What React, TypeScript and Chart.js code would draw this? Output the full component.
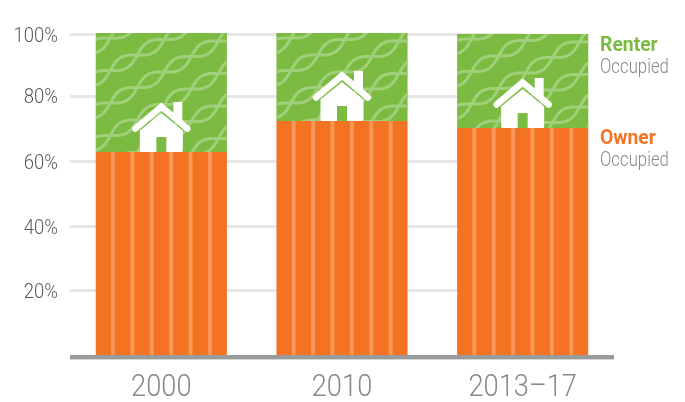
import React, { useEffect, useRef } from "react";
import { Chart, registerables } from "chart.js";

Chart.register(...registerables);

const categories = ["2000", "2010", "2013–17"];
const ownerOccupied = [63.4, 73.1, 70.9];
const renterOccupied = [37.2, 27.5, 29.4];
const tickValues = [20, 40, 60.3, 80.8, 100];
const tickLabels = ["20%", "40%", "60%", "80%", "100%"];

const GREEN = "#7cbb42";
const ORANGE = "#f47323";
const FONT = 'Roboto, "Liberation Sans", sans-serif';
const NARROW = 0.88;

function drawNarrow(ctx: CanvasRenderingContext2D, text: string, x: number, y: number, sx = NARROW) {
  ctx.save();
  ctx.translate(x, y);
  ctx.scale(sx, 1);
  ctx.fillText(text, 0, 0);
  ctx.restore();
}

function drawStripes(ctx: CanvasRenderingContext2D, left: number, top: number, right: number, bottom: number) {
  ctx.fillStyle = "#f8995a";
  const period = 19.4;
  for (let i = 0; i < 6; i++) ctx.fillRect(left + 15.3 + i * period, top, 3.8, bottom - top);
}

function drawTwists(ctx: CanvasRenderingContext2D, left: number, top: number, right: number, bottom: number) {
  const dx = 27;
  const dy = -15.5;
  const len = Math.hypot(dx, dy);
  const ux = dx / len;
  const uy = dy / len;
  const rowGap = 32.5;
  ctx.strokeStyle = "#a1cf7a";
  ctx.lineWidth = 3;
  for (let row = -2; row < 9; row++) {
    const ox = left + 14.5;
    const oy = top + row * rowGap + 5;
    for (const sign of [1, -1]) {
      ctx.beginPath();
      for (let t = -60; t <= 300; t += 2) {
        const wave = sign * 6 * Math.sin((Math.PI * t) / len);
        const x = ox + ux * t - uy * wave;
        const y = oy + uy * t + ux * wave;
        if (t === -60) ctx.moveTo(x, y);
        else ctx.lineTo(x, y);
      }
      ctx.stroke();
    }
  }
}

function drawHouse(ctx: CanvasRenderingContext2D, cx: number, by: number) {
  ctx.save();
  ctx.translate(cx, by);
  ctx.fillStyle = "#ffffff";
  ctx.strokeStyle = "#ffffff";
  ctx.beginPath();
  ctx.moveTo(12, -50);
  ctx.lineTo(21, -50);
  ctx.lineTo(21, -30);
  ctx.lineTo(12, -37);
  ctx.closePath();
  ctx.fill();
  ctx.lineWidth = 6.4;
  ctx.lineCap = "round";
  ctx.lineJoin = "miter";
  ctx.beginPath();
  ctx.moveTo(-26, -23.5);
  ctx.lineTo(0, -45.5);
  ctx.lineTo(26, -23.5);
  ctx.stroke();
  ctx.beginPath();
  ctx.moveTo(-21.5, -1.5);
  ctx.lineTo(-21.5, -21.5);
  ctx.lineTo(0, -39);
  ctx.lineTo(21.5, -21.5);
  ctx.lineTo(21.5, -1.5);
  ctx.quadraticCurveTo(21.5, 0, 20, 0);
  ctx.lineTo(-20, 0);
  ctx.quadraticCurveTo(-21.5, 0, -21.5, -1.5);
  ctx.closePath();
  ctx.fill();
  ctx.fillStyle = GREEN;
  ctx.fillRect(-5, -15, 10, 15);
  ctx.restore();
}

function narrowLabels(scale: any, dy: number) {
  scale.drawLabels = function (area: any) {
    const ctx: CanvasRenderingContext2D = scale.ctx;
    for (const item of scale.getLabelItems(area)) {
      const o = item.options;
      ctx.save();
      ctx.font = item.font.string;
      ctx.fillStyle = o.color;
      ctx.textAlign = o.textAlign;
      ctx.textBaseline = o.textBaseline;
      drawNarrow(ctx, String(item.label), o.translation[0], o.translation[1] + item.textOffset + dy);
      ctx.restore();
    }
  };
}

const decorations = {
  id: "decorations",
  beforeDraw(chart: any) {
    narrowLabels(chart.scales.x, 0);
    narrowLabels(chart.scales.y, 1.5);
  },
  beforeDatasetsDraw(chart: any) {
    const ctx = chart.ctx;
    const last = chart.getDatasetMeta(0).data[categories.length - 1];
    ctx.clearRect(last.x, 0, chart.width - last.x, chart.scales.x.top);
  },
  afterDatasetsDraw(chart: any) {
    const ctx: CanvasRenderingContext2D = chart.ctx;
    const { left, right, bottom } = chart.chartArea;
    const owner = chart.getDatasetMeta(0).data;
    const renter = chart.getDatasetMeta(1).data;
    owner.forEach((bar: any, i: number) => {
      const half = bar.width / 2;
      ctx.save();
      ctx.beginPath();
      ctx.rect(bar.x - half, bar.y, bar.width, bar.base - bar.y);
      ctx.clip();
      drawStripes(ctx, bar.x - half, bar.y, bar.x + half, bar.base);
      ctx.restore();
      const r = renter[i];
      ctx.save();
      ctx.beginPath();
      ctx.rect(r.x - half, r.y, r.width, r.base - r.y);
      ctx.clip();
      drawTwists(ctx, r.x - half, r.y, r.x + half, r.base);
      ctx.restore();
      drawHouse(ctx, bar.x, bar.y);
    });
    ctx.fillStyle = "#999a9c";
    ctx.fillRect(left - 1, bottom, right - left + 2, 4.4);

    ctx.textAlign = "left";
    ctx.textBaseline = "alphabetic";
    ctx.font = `bold 21px ${FONT}`;
    ctx.fillStyle = GREEN;
    drawNarrow(ctx, "Renter", 600, 51, 0.92);
    ctx.fillStyle = ORANGE;
    drawNarrow(ctx, "Owner", 600, 144, 0.92);
    ctx.font = `300 19.5px ${FONT}`;
    ctx.fillStyle = "#88898c";
    drawNarrow(ctx, "Occupied", 600, 72.5, 0.86);
    drawNarrow(ctx, "Occupied", 600, 165.5, 0.86);
  },
};

export default function App() {
  const ref = useRef<HTMLCanvasElement>(null);
  useEffect(() => {
    const chart = new Chart(ref.current!, {
      type: "bar",
      data: {
        labels: categories,
        datasets: [
          { label: "Owner Occupied", data: ownerOccupied, backgroundColor: ORANGE },
          { label: "Renter Occupied", data: renterOccupied, backgroundColor: GREEN },
        ],
      },
      options: {
        animation: false,
        responsive: false,
        devicePixelRatio: 1,
        layout: { padding: { top: 33, right: 72, left: 0, bottom: 0 } },
        plugins: { legend: { display: false }, tooltip: { enabled: false } },
        datasets: { bar: { categoryPercentage: 1, barPercentage: 0.7258 } },
        scales: {
          x: {
            stacked: true,
            grid: { display: false },
            border: { display: false },
            ticks: {
              color: "#88898c",
              font: { family: FONT, size: 31, weight: "300" },
              padding: 7,
              maxRotation: 0,
            },
            afterFit(scale: any) {
              scale.height = 47;
            },
          },
          y: {
            stacked: true,
            min: 0,
            max: 100.6,
            grid: { color: "#e6e6e7", lineWidth: 3, tickLength: 1 },
            border: { display: false },
            afterBuildTicks(scale: any) {
              scale.ticks = tickValues.map((value) => ({ value }));
            },
            ticks: {
              color: "#58595b",
              font: { family: FONT, size: 21, weight: "300" },
              padding: 12,
              callback: (_v: any, i: number) => tickLabels[i],
            },
            afterFit(scale: any) {
              scale.width = 71;
            },
          },
        },
      },
      plugins: [decorations],
    } as any);
    return () => chart.destroy();
  }, []);
  return (
    <div style={{ position: "absolute", left: 0, top: 0, width: 685, height: 402 }}>
      <canvas ref={ref} width={685} height={402} style={{ display: "block" }} />
    </div>
  );
}
